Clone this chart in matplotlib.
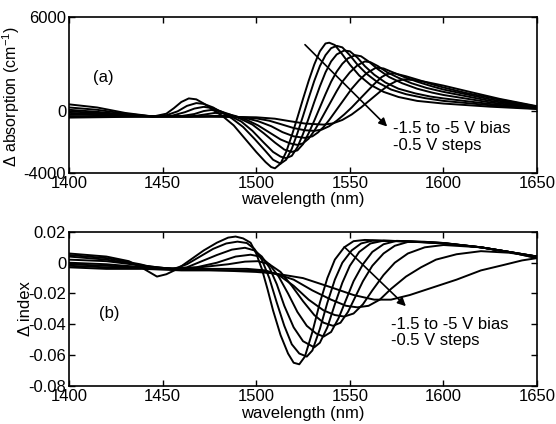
import matplotlib.pyplot as plt

plt.rcParams["font.family"] = ["Liberation Sans", "DejaVu Sans"]
plt.rcParams["axes.unicode_minus"] = False

# (a) change in absorption (cm^-1), one curve per bias step, -1.5 V ... -5 V
abs15_x = [1400, 1415, 1430, 1445, 1452, 1456, 1460, 1464, 1468, 1472, 1477, 1482, 1488, 1494, 1500, 1505, 1508, 1510,
           1513, 1516, 1519, 1522, 1525, 1528, 1531, 1534, 1537, 1539, 1542, 1546, 1550, 1555, 1561, 1568, 1576, 1586,
           1600, 1625, 1650]
abs15_y = [400, 200, -150, -380, -200, 150, 550, 780, 720, 450, 50, -350, -950, -1800, -2650, -3300, -3620, -3700,
           -3400, -2650, -1600, -450, 750, 1900, 2950, 3800, 4300, 4350, 4200, 3600, 2950, 2250, 1650, 1200, 870, 620,
           450, 250, 100]

abs20_x = [1400, 1415, 1430, 1445, 1452, 1458, 1463, 1468, 1472, 1477, 1482, 1487, 1493, 1499, 1505, 1509, 1513, 1516,
           1519, 1522, 1525, 1528, 1531, 1534, 1537, 1540, 1543, 1546, 1550, 1554, 1559, 1565, 1572, 1580, 1590, 1600,
           1625, 1650]
abs20_y = [200, 50, -200, -380, -300, -50, 300, 480, 430, 200, -150, -500, -1050, -1800, -2600, -3150, -3400, -3150,
           -2450, -1450, -350, 800, 1900, 2850, 3550, 4000, 4150, 4050, 3550, 2950, 2350, 1800, 1350, 1050, 800, 620,
           340, 120]

abs25_x = [1400, 1415, 1430, 1445, 1455, 1462, 1467, 1472, 1477, 1482, 1487, 1492, 1498, 1504, 1509, 1513, 1516, 1519,
           1522, 1525, 1528, 1531, 1534, 1537, 1540, 1543, 1547, 1550, 1554, 1558, 1563, 1569, 1576, 1585, 1593, 1600,
           1625, 1650]
abs25_y = [50, -80, -250, -380, -330, -100, 130, 240, 150, -100, -400, -700, -1300, -2050, -2650, -2950, -3050, -2900,
           -2350, -1500, -500, 550, 1550, 2450, 3150, 3600, 3850, 3800, 3400, 2850, 2300, 1800, 1400, 1100, 900, 780,
           420, 150]

abs30_x = [1400, 1415, 1430, 1445, 1460, 1467, 1472, 1476, 1481, 1486, 1492, 1498, 1504, 1510, 1515, 1519, 1522, 1525,
           1528, 1531, 1534, 1537, 1540, 1543, 1546, 1549, 1553, 1556, 1560, 1565, 1571, 1578, 1586, 1594, 1600, 1625,
           1650]
abs30_y = [-50, -150, -300, -380, -350, -220, -30, 40, -50, -250, -550, -900, -1450, -2050, -2500, -2650, -2550, -2150,
           -1450, -650, 200, 1050, 1850, 2500, 3000, 3350, 3550, 3480, 3150, 2650, 2150, 1750, 1400, 1150, 1000, 520,
           170]

abs35_x = [1400, 1415, 1430, 1445, 1465, 1472, 1478, 1483, 1489, 1495, 1501, 1507, 1513, 1518, 1522, 1525, 1528, 1531,
           1534, 1537, 1540, 1543, 1546, 1550, 1554, 1558, 1561, 1565, 1570, 1576, 1583, 1591, 1600, 1625, 1650]
abs35_y = [-150, -220, -330, -380, -380, -260, -150, -180, -350, -600, -950, -1400, -1850, -2100, -2200, -2100, -1800,
           -1300, -700, -50, 600, 1250, 1850, 2450, 2900, 3150, 3100, 2850, 2450, 2100, 1750, 1450, 1200, 620, 200]

abs40_x = [1400, 1415, 1430, 1445, 1470, 1480, 1487, 1494, 1501, 1508, 1514, 1520, 1526, 1530, 1533, 1536, 1539, 1542,
           1545, 1548, 1551, 1555, 1559, 1564, 1568, 1573, 1579, 1586, 1594, 1600, 1625, 1650]
abs40_y = [-250, -290, -360, -380, -380, -330, -360, -470, -680, -1000, -1380, -1650, -1750, -1650, -1400, -1050, -600,
           -100, 400, 900, 1400, 1950, 2400, 2750, 2700, 2450, 2150, 1850, 1550, 1350, 720, 220]

abs45_x = [1400, 1420, 1445, 1475, 1490, 1500, 1507, 1514, 1520, 1526, 1531, 1535, 1539, 1543, 1547, 1551, 1555, 1559,
           1563, 1567, 1570, 1574, 1580, 1587, 1594, 1600, 1612, 1625, 1650]
abs45_y = [-350, -380, -380, -380, -410, -500, -650, -900, -1120, -1260, -1300, -1220, -1000, -650, -250, 200, 700, 1200,
           1700, 2150, 2350, 2380, 2200, 1950, 1680, 1480, 1130, 820, 250]

abs50_x = [1400, 1420, 1445, 1480, 1500, 1510, 1518, 1526, 1536, 1541, 1546, 1551, 1556, 1561, 1566, 1571, 1575, 1579,
           1584, 1590, 1600, 1614, 1630, 1650]
abs50_y = [-450, -420, -380, -390, -430, -520, -680, -830, -900, -820, -600, -250, 200, 700, 1200, 1650, 1900, 2000,
           1960, 1850, 1600, 1200, 750, 280]

# (b) change in refractive index
idx15_x = [1400, 1420, 1432, 1440, 1447, 1452, 1458, 1465, 1472, 1479, 1485, 1489, 1493, 1497, 1500, 1503, 1506, 1509,
           1513, 1517, 1520, 1523, 1526, 1530, 1534, 1538, 1542, 1547, 1552, 1558, 1570, 1580, 1590, 1600, 1620, 1635,
           1650]
idx15_y = [0.006, 0.004, 0.001, -0.004, -0.009, -0.0075, -0.004, 0.002, 0.008, 0.013, 0.0163, 0.017, 0.0158, 0.013,
           0.006, -0.004, -0.017, -0.031, -0.047, -0.059, -0.065, -0.066, -0.061, -0.045, -0.026, -0.010, 0.002, 0.010,
           0.014, 0.0148, 0.0143, 0.0138, 0.0132, 0.0125, 0.010, 0.007, 0.003]

idx20_x = [1400, 1420, 1438, 1448, 1456, 1463, 1470, 1477, 1484, 1490, 1495, 1499, 1503, 1507, 1511, 1515, 1519, 1523,
           1527, 1530, 1534, 1538, 1542, 1546, 1551, 1556, 1562, 1575, 1590, 1600, 1620, 1635, 1650]
idx20_y = [0.005, 0.003, -0.001, -0.004, -0.004, -0.001, 0.004, 0.009, 0.0125, 0.0137, 0.0128, 0.009, 0.002, -0.010,
           -0.026, -0.041, -0.053, -0.059, -0.061, -0.057, -0.043, -0.026, -0.011, 0.000, 0.008, 0.0125, 0.0143, 0.014,
           0.0133, 0.0126, 0.010, 0.007, 0.003]

idx25_x = [1400, 1420, 1440, 1455, 1463, 1471, 1479, 1487, 1494, 1499, 1503, 1507, 1511, 1515, 1520, 1525, 1531, 1534,
           1538, 1542, 1546, 1550, 1555, 1561, 1568, 1580, 1600, 1620, 1635, 1650]
idx25_y = [0.004, 0.002, -0.002, -0.004, -0.003, 0.001, 0.005, 0.0085, 0.0097, 0.008, 0.004, -0.003, -0.014, -0.028,
           -0.042, -0.051, -0.055, -0.052, -0.042, -0.027, -0.013, -0.002, 0.007, 0.0125, 0.0143, 0.014, 0.0127, 0.010,
           0.007, 0.004]

idx30_x = [1400, 1420, 1440, 1455, 1468, 1479, 1489, 1497, 1502, 1507, 1512, 1517, 1522, 1527, 1532, 1536, 1540, 1544,
           1548, 1552, 1557, 1562, 1568, 1575, 1590, 1600, 1620, 1635, 1650]
idx30_y = [0.002, 0.001, -0.002, -0.004, -0.003, 0.000, 0.004, 0.0052, 0.004, -0.001, -0.009, -0.020, -0.032, -0.041,
           -0.046, -0.048, -0.045, -0.036, -0.024, -0.012, -0.001, 0.007, 0.012, 0.0142, 0.0136, 0.0128, 0.010, 0.007,
           0.004]

idx35_x = [1400, 1420, 1440, 1455, 1470, 1485, 1494, 1501, 1507, 1513, 1519, 1525, 1531, 1536, 1541, 1545, 1549, 1553,
           1557, 1562, 1568, 1574, 1581, 1590, 1600, 1620, 1635, 1650]
idx35_y = [0.000, -0.001, -0.003, -0.004, -0.003, -0.001, 0.0007, 0.001, -0.001, -0.006, -0.015, -0.025, -0.034, -0.039,
           -0.041, -0.039, -0.032, -0.022, -0.012, -0.002, 0.006, 0.011, 0.0135, 0.0135, 0.0128, 0.010, 0.007, 0.004]

idx40_x = [1400, 1420, 1440, 1460, 1480, 1495, 1505, 1512, 1520, 1528, 1536, 1542, 1547, 1552, 1557, 1562, 1568, 1574,
           1581, 1590, 1600, 1620, 1635, 1650]
idx40_y = [-0.001, -0.002, -0.003, -0.004, -0.004, -0.004, -0.005, -0.008, -0.015, -0.024, -0.031, -0.034, -0.035,
           -0.033, -0.027, -0.018, -0.008, 0.000, 0.006, 0.010, 0.0115, 0.010, 0.007, 0.004]

idx45_x = [1400, 1420, 1440, 1460, 1480, 1500, 1510, 1520, 1530, 1540, 1548, 1554, 1560, 1566, 1572, 1580, 1588, 1596,
           1607, 1620, 1635, 1650]
idx45_y = [-0.002, -0.003, -0.003, -0.004, -0.005, -0.005, -0.007, -0.011, -0.018, -0.024, -0.028, -0.029, -0.028,
           -0.024, -0.017, -0.009, -0.003, 0.002, 0.0055, 0.0075, 0.0065, 0.004]

idx50_x = [1400, 1420, 1440, 1460, 1480, 1500, 1510, 1525, 1540, 1552, 1563, 1572, 1582, 1592, 1607, 1620, 1632, 1642,
           1650]
idx50_y = [-0.003, -0.004, -0.004, -0.005, -0.005, -0.006, -0.007, -0.010, -0.016, -0.021, -0.024, -0.024, -0.021,
           -0.017, -0.011, -0.005, -0.0015, 0.0015, 0.003]

wl_ticks = [1400, 1450, 1500, 1550, 1600, 1650]
abs_ticks = [-4000, 0, 6000]
idx_ticks = [-0.08, -0.06, -0.04, -0.02, 0, 0.02]
idx_labels = ["-0.08", "-0.06", "-0.04", "-0.02", "0", "0.02"]

abs_curves = [(abs15_x, abs15_y), (abs20_x, abs20_y), (abs25_x, abs25_y), (abs30_x, abs30_y),
              (abs35_x, abs35_y), (abs40_x, abs40_y), (abs45_x, abs45_y), (abs50_x, abs50_y)]
idx_curves = [(idx15_x, idx15_y), (idx20_x, idx20_y), (idx25_x, idx25_y), (idx30_x, idx30_y),
              (idx35_x, idx35_y), (idx40_x, idx40_y), (idx45_x, idx45_y), (idx50_x, idx50_y)]

fig = plt.figure(figsize=(5.56, 4.24), dpi=100)
ax1 = fig.add_axes([0.124, 0.592, 0.842, 0.368])
ax2 = fig.add_axes([0.124, 0.090, 0.842, 0.363])

for x, y in abs_curves:
    ax1.plot(x, y, color="black", lw=1.4)
for x, y in idx_curves:
    ax2.plot(x, y, color="black", lw=1.4)

for ax in (ax1, ax2):
    ax.set_xlim(1400, 1650)
    ax.set_xticks(wl_ticks)
    ax.tick_params(direction="in", top=True, right=True, length=4, width=1, labelsize=12, pad=2)
    for s in ax.spines.values():
        s.set_linewidth(1.2)

ax1.set_ylim(-4000, 6000)
ax1.set_yticks(abs_ticks)
ax1.set_xlabel("wavelength (nm)", fontsize=12)
ax1.xaxis.set_label_coords(0.5, -0.125)
ax1.set_ylabel("Δ absorption (cm$^{\\mathregular{-1}}$)", fontsize=11.5)
ax1.yaxis.set_label_coords(-0.1, 0.49)
ax1.text(1413, 2150, "(a)", fontsize=12, va="center")
ax1.annotate("", xy=(1571, -1150), xytext=(1525, 4350),
             arrowprops=dict(arrowstyle="-|>", color="black", lw=1.2, mutation_scale=12))
ax1.text(1573, -650, "-1.5 to -5 V bias\n-0.5 V steps", fontsize=12, va="top", linespacing=1.15)

ax2.set_ylim(-0.08, 0.02)
ax2.set_yticks(idx_ticks)
ax2.set_yticklabels(idx_labels)
ax2.set_xlabel("wavelength (nm)", fontsize=12)
ax2.xaxis.set_label_coords(0.5, -0.13)
ax2.set_ylabel("Δ index", fontsize=12)
ax2.yaxis.set_label_coords(-0.077, 0.5)
ax2.text(1416, -0.033, "(b)", fontsize=12, va="center")
ax2.annotate("", xy=(1581, -0.0295), xytext=(1546, 0.0115),
             arrowprops=dict(arrowstyle="-|>", color="black", lw=1.2, mutation_scale=12))
ax2.text(1572, -0.035, "-1.5 to -5 V bias\n-0.5 V steps", fontsize=12, va="top", linespacing=1.15)

fig.savefig("out.png", dpi=100)
